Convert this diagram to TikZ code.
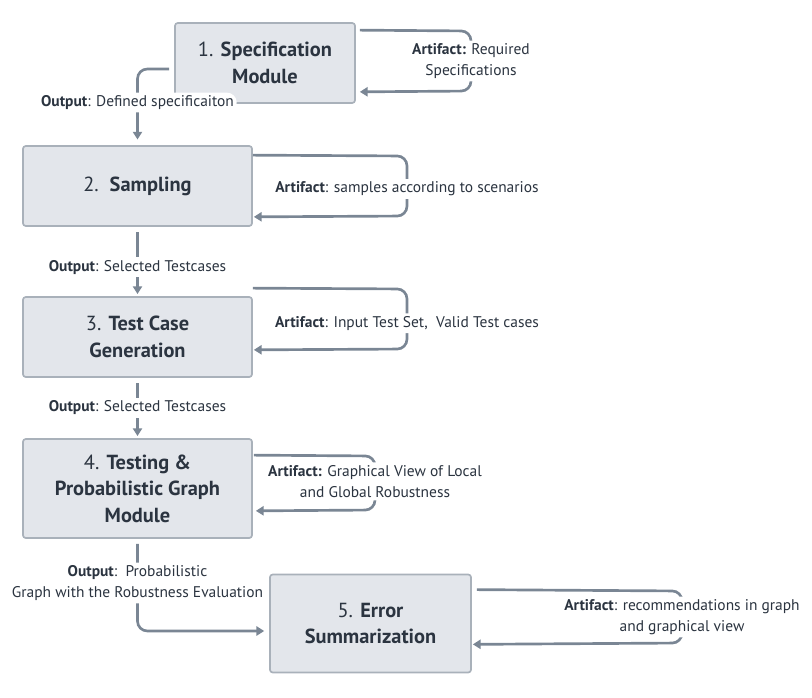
\documentclass[tikz,border=0pt]{standalone}
\usepackage{fontspec}
\setmainfont{PT Sans}
\usetikzlibrary{arrows.meta,calc}
\definecolor{boxfill}{HTML}{E3E6EB}
\definecolor{boxdraw}{HTML}{A9B1BA}
\definecolor{flowcol}{HTML}{7A8694}
\definecolor{inkcol}{HTML}{2B3440}
\begin{document}
\begin{tikzpicture}[x=0.025cm,y=-0.025cm]
    \tikzstyle{stage}=[draw=boxdraw, fill=boxfill, line width=1.2pt, rounded corners=2pt, align=center, text=inkcol, font=\fontsize{14.5}{18.8}\selectfont]
    \tikzstyle{flow}=[draw=flowcol, line width=1.9pt, rounded corners=7pt, -{Triangle[length=5.5pt,width=6.5pt]}]
    \tikzstyle{tag}=[pos=0.5, fill=white, inner sep=2pt, align=center, text=inkcol, font=\fontsize{11}{14.9}\selectfont]
    \useasboundingbox (0,0) rectangle (812,698);
    \node[stage, minimum width=4.5cm, minimum height=2cm] (b1) at (265,63) {1. \textbf{Specification}\\\textbf{Module}};
    \node[stage, minimum width=5.725cm, minimum height=2cm] (b2) at (137.5,186) {2.\ \ \textbf{Sampling}};
    \node[stage, minimum width=5.725cm, minimum height=2cm] (b3) at (137.5,337) {3. \textbf{Test Case}\\\textbf{Generation}};
    \node[stage, minimum width=5.725cm, minimum height=2.475cm] (b4) at (137.5,488.5) {4. \textbf{Testing \&}\\\textbf{Probabilistic Graph}\\\textbf{Module}};
    \node[stage, minimum width=5.025cm, minimum height=2.45cm] (b5) at (370.5,623.5) {5. \textbf{Error}\\\textbf{Summarization}};
    \draw[flow] ($(b1.north east)+(4,8)$) -- (471,31) -- node[tag] {\textbf{Artifact:} Required\\Specifications} (471,91) -- ($(b1.south east)+(4,-12)$);
    \draw[flow] ($(b2.north east)+(0,10)$) -- (407,156) -- node[tag, pos=0.55] {\textbf{Artifact}: samples according to scenarios} (407,216) -- ($(b2.south east)+(1,-10)$);
    \draw[flow] ($(b3.north east)+(0,-8)$) -- (407,289) -- node[tag, pos=0.57] {\textbf{Artifact}: Input Test Set,\ \ Valid Test cases} (407,349) -- ($(b3.south east)+(1,-28)$);
    \draw[flow] ($(b4.north east)+(1,17)$) -- (375,456) -- node[tag, pos=0.47] {\textbf{Artifact:} Graphical View of Local\\and Global Robustness} (375,510) -- ($(b4.south east)+(3,-28)$);
    \draw[flow] ($(b5.north east)+(5,16)$) -- (682,591) -- node[tag] {\textbf{Artifact}: recommendations in graph\\and graphical view} (682,643) -- ($(b5.south east)+(1,-29)$);
    \draw[flow, shorten >=4pt] ($(b1.west)+(-5,6)$) -| node[tag, pos=0.72] {\textbf{Output}: Defined specificaiton} (b2.north);
    \draw[flow, shorten <=4pt, shorten >=1.5pt] (b2.south) -- node[tag, pos=0.58] {\textbf{Output}: Selected Testcases} (b3.north);
    \draw[flow, shorten <=4pt, shorten >=1.5pt] (b3.south) -- node[tag] {\textbf{Output}: Selected Testcases} (b4.north);
    \draw[flow, shorten <=3.5pt, shorten >=3.5pt] (b4.south) |- node[tag, pos=0.24] {\textbf{Output}:\ \ Probabilistic\\Graph with the Robustness Evaluation} ($(b5.west)+(0,7.5)$);
\end{tikzpicture}
\end{document}
